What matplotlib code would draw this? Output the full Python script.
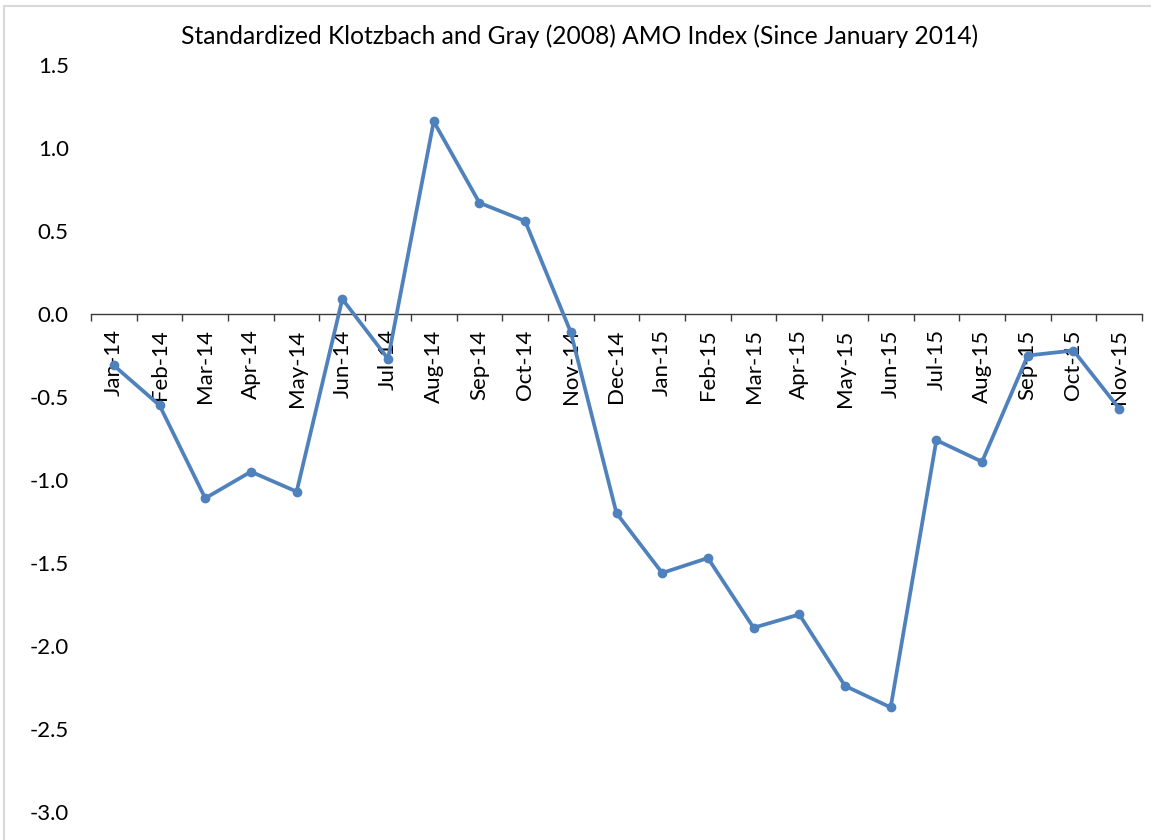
import numpy as np
import matplotlib
matplotlib.use("Agg")
import matplotlib.pyplot as plt
from matplotlib.patches import Rectangle

plt.rcParams['font.family'] = ['Lato', 'DejaVu Sans']

months = ["Jan-14", "Feb-14", "Mar-14", "Apr-14", "May-14", "Jun-14", "Jul-14",
          "Aug-14", "Sep-14", "Oct-14", "Nov-14", "Dec-14",
          "Jan-15", "Feb-15", "Mar-15", "Apr-15", "May-15", "Jun-15", "Jul-15",
          "Aug-15", "Sep-15", "Oct-15", "Nov-15"]
amo = [-0.31, -0.55, -1.11, -0.95, -1.07, 0.09, -0.27,
       1.16, 0.67, 0.56, -0.11, -1.20,
       -1.56, -1.47, -1.89, -1.81, -2.24, -2.37, -0.76,
       -0.89, -0.25, -0.22, -0.57]
yticks = [1.5, 1.0, 0.5, 0.0, -0.5, -1.0, -1.5, -2.0, -2.5, -3.0]

W, H = 1151, 840
fig = plt.figure(figsize=(W / 100, H / 100), dpi=100)
ax = fig.add_axes([91 / W, 1 - 812 / H, (1142 - 91) / W, (812 - 65) / H])

x = np.arange(len(months))
ax.plot(x, amo, color='#4F81BD', lw=2.7, marker='o', ms=6,
        solid_joinstyle='round', clip_on=False, zorder=3)

ax.set_xlim(-0.5, len(months) - 0.5)
ax.set_ylim(-3.0, 1.5)

# axis crosses at zero, ticks between categories
ax.spines['bottom'].set_position(('data', 0))
for s in ['top', 'right', 'left']:
    ax.spines[s].set_visible(False)
ax.spines['bottom'].set_color('#3a3a3a')
ax.spines['bottom'].set_linewidth(1.0)

ax.set_xticks(np.arange(-0.5, len(months)), labels=[])
ax.set_xticks(x, labels=months, minor=True, rotation=90, va='top', ha='center')
ax.tick_params(axis='x', which='major', direction='out', length=5, width=1,
               color='#3a3a3a')
ax.tick_params(axis='x', which='minor', length=0, pad=11, labelsize=16)

ax.set_yticks(yticks, labels=[f"{v:.1f}" for v in yticks])
ax.tick_params(axis='y', length=0, pad=16, labelsize=16)

fig.text(580 / W, 1 - 36 / H,
         "Standardized Klotzbach and Gray (2008) AMO Index (Since January 2014)",
         ha='center', va='center', fontsize=17.7)

# chart area border (cut off at right and bottom)
fig.patches.append(Rectangle((4 / W, -0.1), 1.2, 1 - 6 / H + 0.1,
                             transform=fig.transFigure, fill=False,
                             edgecolor='#D9D9D9', lw=1.5))

fig.savefig("out.png", dpi=100)
